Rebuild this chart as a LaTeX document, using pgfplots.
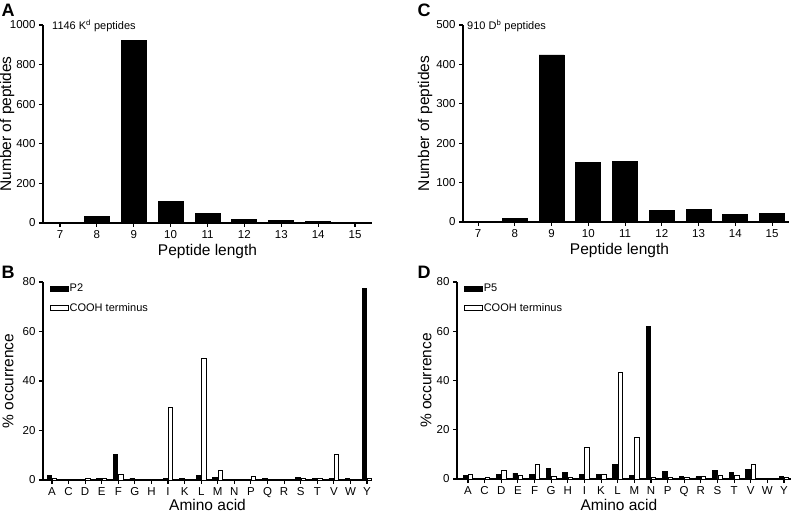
\documentclass[border=0pt]{standalone}
\usepackage{fontspec}
\setmainfont{Liberation Sans}
\usepackage{pgfplots}
\pgfplotsset{compat=1.18}
\usepackage{pgfplotstable}

% peptide length distributions
\pgfplotstableread{
len n
7 2
8 35
9 922
10 111
11 49
12 20
13 15
14 7
15 3
}\lenK
\pgfplotstableread{
len n
7 1
8 9
9 424
10 151
11 153
12 30
13 32
14 19
15 21
}\lenD

% amino acid usage: idx, anchor position, COOH terminus
\pgfplotstableread{
idx p2 cterm
0 2.0 0.7
1 0.3 0.3
2 0.4 0.6
3 0.6 0.5
4 10.5 2.2
5 0.8 0.4
6 0.1 0.1
7 0.8 29.3
8 0.8 0.3
9 2.0 49.0
10 1.1 4.0
11 0.1 0.3
12 0.3 1.3
13 0.8 0.3
14 0.2 0.4
15 1.1 0.8
16 0.5 0.5
17 0.7 10.3
18 0.7 0.3
19 77.5 0.5
}\aaK
\pgfplotstableread{
idx p5 cterm
0 1.6 2.0
1 0.0 0.5
2 1.8 3.4
3 2.4 1.4
4 1.7 5.8
5 4.2 1.1
6 2.6 0.5
7 2.0 12.8
8 1.9 2.0
9 6.0 43.2
10 1.5 16.8
11 62.0 0.8
12 3.0 0.8
13 0.9 0.8
14 0.9 0.9
15 3.3 1.6
16 2.5 1.5
17 3.7 5.9
18 0.3 0.3
19 0.9 0.8
}\aaD

\def\labfont{\fontsize{15.5}{17}\selectfont}

\pgfplotsset{
  panel/.style={
    scale only axis,
    anchor=south west,
    axis lines*=left,
    axis line style={-, line width=1.4pt},
    tick align=outside,
    major tick length=4pt,
    tick style={line width=1.1pt, black},
    ymin=0,
    /pgf/number format/assume math mode=true,
    /pgf/number format/1000 sep={},
    tick label style={font=\fontsize{11.5}{12}\selectfont},
  },
  lenbar/.style={ybar, bar width=25pt, fill=black, draw=black, line width=0.8pt},
  blkbar/.style={ybar, bar width=4.4pt, bar shift=-2.7pt, fill=black, draw=black, line width=0.9pt,
    legend image code/.code={\draw[fill=black, draw=black, line width=0.9pt] (0pt,-2.6pt) rectangle (18pt,2.6pt);}},
  whtbar/.style={ybar, bar width=4.4pt, bar shift=2.7pt, fill=white, draw=black, line width=0.9pt,
    legend image code/.code={\draw[fill=white, draw=black, line width=0.9pt] (0pt,-2.6pt) rectangle (18pt,2.6pt);}},
  aalegend/.style={
    legend style={at={(axis description cs:0.02,0.995)}, anchor=north west, draw=none, fill=none,
      font=\fontsize{11}{12}\selectfont, row sep=8pt, inner sep=0pt,
      nodes={inner sep=1pt, anchor=west}},
    legend cell align=left,
  },
  aaticks/.style={
    xtick={0,...,19},
    xticklabels={A,C,D,E,F,G,H,I,K,L,M,N,P,Q,R,S,T,V,W,Y},
  },
}

\begin{document}
\begin{tikzpicture}
\useasboundingbox (0,0) rectangle (792pt,514pt);

% A
\begin{axis}[panel, at={(43pt,291pt)}, width=329pt, height=198pt,
  xmin=6.54, xmax=15.46, ymax=1000,
  xtick={7,...,15}, ytick={0,200,400,600,800,1000},
  xlabel={Peptide length}, ylabel={Number of peptides},
  every axis x label/.style={at={(axis description cs:0.5,0)}, yshift=-28pt, anchor=center, font=\labfont},
  every axis y label/.style={at={(axis description cs:0,0.5)}, xshift=-36pt, rotate=90, anchor=center, font=\labfont},
]
\addplot[lenbar] table[x=len, y=n] {\lenK};
\end{axis}

% C
\begin{axis}[panel, at={(463pt,292pt)}, width=326pt, height=197pt,
  xmin=6.59, xmax=15.46, ymax=500,
  xtick={7,...,15}, ytick={0,100,200,300,400,500},
  xlabel={Peptide length}, ylabel={Number of peptides},
  every axis x label/.style={at={(axis description cs:0.48,0)}, yshift=-28pt, anchor=center, font=\labfont},
  every axis y label/.style={at={(axis description cs:0,0.5)}, xshift=-38pt, rotate=90, anchor=center, font=\labfont},
]
\addplot[lenbar] table[x=len, y=n] {\lenD};
\end{axis}

% B
\begin{axis}[panel, aaticks, aalegend, at={(43pt,34pt)}, width=329pt, height=198pt,
  xmin=-0.54, xmax=19.3, ymax=80,
  ytick={0,20,40,60,80},
  xlabel={Amino acid}, ylabel={\% occurrence},
  every axis x label/.style={at={(axis description cs:0.5,0)}, yshift=-30pt, anchor=base, font=\labfont},
  every axis y label/.style={at={(axis description cs:0,0.5)}, xshift=-35pt, rotate=90, anchor=center, font=\labfont},
]
\addplot[blkbar] table[x=idx, y=p2] {\aaK};
\addplot[whtbar] table[x=idx, y=cterm] {\aaK};
\legend{P2, COOH terminus}
\end{axis}

% D
\begin{axis}[panel, aaticks, aalegend, at={(457pt,35pt)}, width=334pt, height=197pt,
  xmin=-0.66, xmax=19.42, ymax=80,
  ytick={0,20,40,60,80},
  xlabel={Amino acid}, ylabel={\% occurrence},
  every axis x label/.style={at={(axis description cs:0.485,0)}, yshift=-31pt, anchor=base, font=\labfont},
  every axis y label/.style={at={(axis description cs:0,0.5)}, xshift=-31pt, rotate=90, anchor=center, font=\labfont},
]
\addplot[blkbar] table[x=idx, y=p5] {\aaD};
\addplot[whtbar] table[x=idx, y=cterm] {\aaD};
\legend{P5, COOH terminus}
\end{axis}

% panel letters and annotations
\node[font=\fontsize{18}{18}\bfseries\selectfont] at (8pt,504pt) {A};
\node[font=\fontsize{18}{18}\bfseries\selectfont] at (424pt,504pt) {C};
\node[font=\fontsize{18}{18}\bfseries\selectfont] at (8pt,242pt) {B};
\node[font=\fontsize{18}{18}\bfseries\selectfont] at (424pt,242pt) {D};
\node[anchor=west, inner sep=0pt, font=\fontsize{11}{12}\selectfont] at (52pt,488pt) {1146 K\textsuperscript{d} peptides};
\node[anchor=west, inner sep=0pt, font=\fontsize{11}{12}\selectfont] at (467pt,488pt) {910 D\textsuperscript{b} peptides};
\end{tikzpicture}
\end{document}
